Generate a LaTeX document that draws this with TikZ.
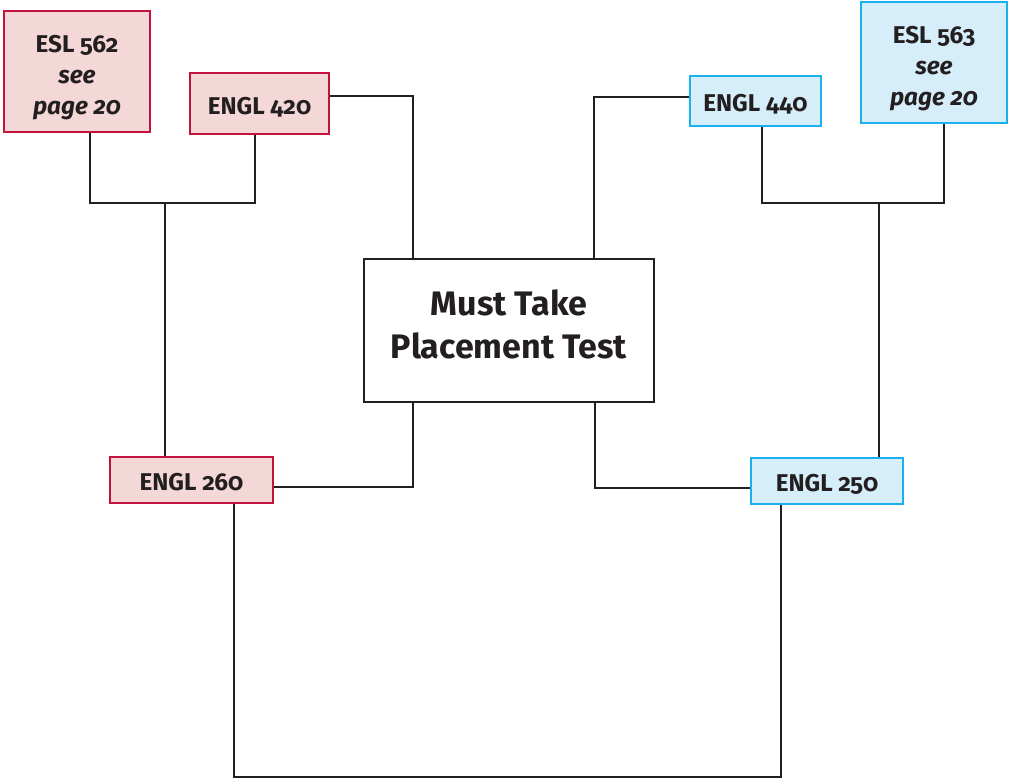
\documentclass[tikz,border=0pt]{standalone}
\usepackage{fontspec}
\setmainfont{Fira Sans}[Numbers=OldStyle]
\definecolor{redline}{HTML}{C4123F}
\definecolor{redfill}{HTML}{F3D8D7}
\definecolor{blueline}{HTML}{1BB1EC}
\definecolor{bluefill}{HTML}{D6EEF9}
\definecolor{inkline}{HTML}{231F20}
\tikzset{
	redbox/.style={draw=redline,fill=redfill,line width=1.9pt,inner sep=0pt,align=center,font=\fontsize{18.2}{23.5}\selectfont\bfseries,text=inkline},
	bluebox/.style={draw=blueline,fill=bluefill,line width=1.9pt,inner sep=0pt,align=center,font=\fontsize{18.2}{23.5}\selectfont\bfseries,text=inkline},
	oneline/.style={text height=16pt,text depth=0pt},
	testbox/.style={draw=inkline,fill=white,line width=1.6pt,inner sep=0pt,align=center,font=\fontsize{25.5}{32}\selectfont\bfseries,text=inkline},
	link/.style={draw=inkline,line width=2pt},
}
\newcommand{\toprule}{\rule{0pt}{22pt}}
\begin{document}
\begin{tikzpicture}[x=0.75pt,y=-0.75pt]
		\useasboundingbox (0,0) rectangle (1014,779);

		% course boxes
		\node [redbox,minimum width=109.5pt,minimum height=90.75pt] (esl562) at (77,71.5) {\toprule ESL 562\\\itshape see\\\itshape page 20};
		\node [redbox,oneline,minimum width=104.25pt,minimum height=45.75pt] (engl420) at (259.5,103.5) {ENGL 420};
		\node [bluebox,oneline,minimum width=98.25pt,minimum height=37.5pt] (engl440) at (755.5,101) {ENGL 440};
		\node [bluebox,minimum width=109.5pt,minimum height=90.75pt] (esl563) at (934,62.5) {\toprule ESL 563\\\itshape see\\\itshape page 20};
		\node [testbox,minimum width=217.5pt,minimum height=107.25pt] (test) at (509,330.5) {Must Take\\Placement Test\\[-22pt]\mbox{}};
		\node [redbox,oneline,minimum width=122.25pt,minimum height=34.5pt] (engl260) at (191.5,480) {ENGL 260};
		\node [bluebox,oneline,minimum width=114pt,minimum height=34.5pt] (engl250) at (827,481) {ENGL 250};

		% junction points
		\coordinate (l1) at (90,203);
		\coordinate (l2) at (255,203);
		\coordinate (l3) at (165,203);
		\coordinate (t1) at (413,96);
		\coordinate (b1) at (413,487);
		\coordinate (t2) at (594,97);
		\coordinate (b2) at (595,488);
		\coordinate (r1) at (762,203);
		\coordinate (r2) at (944,203);
		\coordinate (r3) at (879,203);
		\coordinate (u1) at (234,777);
		\coordinate (u2) at (781,777);

		% connectors
		\draw [link] (l1 |- esl562.south) -- (l1) -- (l2) -- (l2 |- engl420.south);
		\draw [link] (l3) -- (l3 |- engl260.north);
		\draw [link] (engl420.east |- t1) -- (t1) -- (t1 |- test.north);
		\draw [link] (b1 |- test.south) -- (b1) -- (engl260.east |- b1);
		\draw [link] (engl440.west |- t2) -- (t2) -- (t2 |- test.north);
		\draw [link] (b2 |- test.south) -- (b2) -- (engl250.west |- b2);
		\draw [link] (r1 |- engl440.south) -- (r1) -- (r2) -- (r2 |- esl563.south);
		\draw [link] (r3) -- (r3 |- engl250.north);
		\draw [link] (u1 |- engl260.south) -- (u1) -- (u2) -- (u2 |- engl250.south);
		\end{tikzpicture}
\end{document}
